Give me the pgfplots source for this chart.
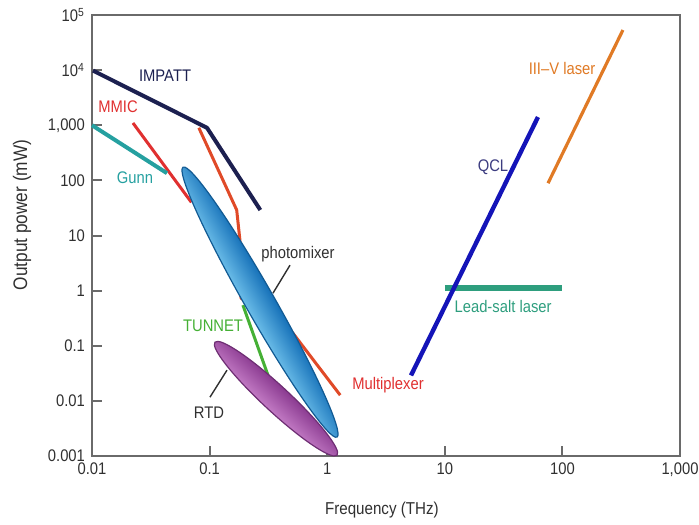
\documentclass[border=0pt]{standalone}
\usepackage{pgfplots}
\pgfplotsset{compat=1.18}
\usepackage{fontspec}
\setmainfont{Liberation Sans}[FakeStretch=0.88]
\definecolor{axisgray}{HTML}{6A6A6A}
\definecolor{labgray}{HTML}{303030}
\definecolor{impatt}{HTML}{1C2050}
\definecolor{mmic}{HTML}{E03030}
\definecolor{mmicb}{HTML}{E04A28}
\definecolor{gunn}{HTML}{25A0A0}
\definecolor{tunnet}{HTML}{45B035}
\definecolor{qcl}{HTML}{1414B8}
\definecolor{qcltext}{HTML}{3C3C80}
\definecolor{threefive}{HTML}{E07A25}
\definecolor{leadsalt}{HTML}{2E9E7E}
\definecolor{pmdark}{HTML}{1570B8}
\definecolor{pmmid}{HTML}{6ABCE8}
\definecolor{pmlight}{HTML}{E0F4FC}
\definecolor{rtodark}{HTML}{8A3A90}
\definecolor{rtomid}{HTML}{C27AC4}
\definecolor{rtolight}{HTML}{F8E0F8}
\tikzset{lab/.style={font=\fontsize{8.4}{10}\selectfont, inner sep=0pt}}
\begin{document}
\begin{tikzpicture}
\begin{axis}[
  scale only axis, width=294pt, height=220.5pt,
  xmode=log, ymode=log,
  xmin=0.01, xmax=1000, ymin=0.001, ymax=100000,
  xtick={0.01,0.1,1,10,100,1000},
  xticklabels={0.01,0.1,1,10,100,{1,000}},
  ytick={0.001,0.01,0.1,1,10,100,1000,10000,100000},
  yticklabels={0.001,0.01,0.1,1,10,100,{1,000},10\textsuperscript{4},10\textsuperscript{5}},
  xminorticks=false, yminorticks=false,
  tick align=inside, major tick length=5pt,
  axis line style={draw=axisgray, line width=1pt},
  major tick style={draw=axisgray, line width=1pt},
  xtick pos=bottom, ytick pos=left,
  tick label style={font=\fontsize{8.4}{10}\selectfont, text=labgray},
  xlabel={Frequency (THz)}, ylabel={Output power (mW)},
  xlabel style={font=\fontsize{8.6}{10}\selectfont, text=labgray, at={(axis description cs:0.493,-0.1224)}, anchor=center},
  ylabel style={font=\fontsize{9.8}{11}\selectfont, text=labgray, at={(axis description cs:-0.119,0.5465)}, anchor=center},
  clip=false,
]
\coordinate (O) at (rel axis cs:0,0);
\coordinate (tA) at (axis cs:0.1,0.001);
\coordinate (tB) at (axis cs:1,0.001);
\coordinate (tC) at (axis cs:10,0.001);
\coordinate (tD) at (axis cs:100,0.001);
% IMPATT
\addplot[impatt, line width=2pt, line join=round] coordinates {(0.0102,9800) (0.095,900) (0.27,29)};
% MMIC left
\addplot[mmic, line width=1.5pt] coordinates {(0.0223,1100) (0.07,40)};
% Gunn
\addplot[gunn, line width=2pt] coordinates {(0.01,1000) (0.0434,135)};
% MMIC right / multiplexer
\addplot[mmicb, line width=1.5pt, line join=round] coordinates {(0.081,900) (0.17,29) (0.181,8.3) (0.185,0.73) (0.51,0.17) (1.29,0.0127)};
% TUNNET
\addplot[tunnet, line width=1.5pt] coordinates {(0.192,0.546) (0.314,0.029)};
% Lead-salt laser
\addplot[leadsalt, line width=3pt] coordinates {(10,1.11) (100,1.11)};
% QCL
\addplot[qcl, line width=2.2pt] coordinates {(5.16,0.029) (62,1410)};
% III-V laser
\addplot[threefive, line width=1.6pt] coordinates {(75.5,89) (327,53400)};

\coordinate (pm) at (axis cs:0.2683,0.6184);
\coordinate (rto) at (axis cs:0.367,0.01096);

% labels
\node[lab, text=impatt] at (axis cs:0.0418,7810) {IMPATT};
\node[lab, text=mmic] at (axis cs:0.01664,2140) {MMIC};
\node[lab, text=gunn] at (axis cs:0.0232,110) {Gunn};
\node[lab, text=labgray] at (axis cs:0.565,4.6) {photomixer};
\draw[labgray, line width=0.7pt] (axis cs:0.483,2.9) -- (axis cs:0.346,0.90);
\node[lab, text=tunnet] at (axis cs:0.107,0.227) {TUNNET};
\node[lab, text=labgray] at (axis cs:0.0989,0.00598) {RTD};
\draw[labgray, line width=0.7pt] (axis cs:0.1007,0.01167) -- (axis cs:0.1406,0.0361);
\node[lab, text=mmic] at (axis cs:3.29,0.0193) {Multiplexer};
\node[lab, text=qcltext] at (axis cs:25.7,174) {QCL};
\node[lab, text=threefive] at (axis cs:99.3,10900) {III–V laser};
\node[lab, text=leadsalt] at (axis cs:31.3,0.523) {Lead-salt laser};
\end{axis}
% x ticks (inside)
\foreach \t in {tA,tB,tC,tD} {
  \draw[axisgray, line width=1pt] (\t) -- ++(0pt,5pt);
}
% ellipses
\begin{scope}[transform canvas={shift={(rto)}, rotate=-42.8}]
\shade[top color=rtodark, middle color=rtolight, bottom color=rtomid, draw=rtodark!80!black, line width=0.6pt] (0,0) ellipse [x radius=41.6pt, y radius=6.5pt];
\end{scope}
\begin{scope}[transform canvas={shift={(pm)}, rotate=-60.3}]
\shade[top color=pmdark, middle color=pmlight, bottom color=pmmid, draw=pmdark!80!black, line width=0.6pt] (0,0) ellipse [x radius=77.7pt, y radius=7.3pt];
\end{scope}
\pgfresetboundingbox
\path ([shift={(-46pt,-34pt)}]O) rectangle ([shift={(303.5pt,228pt)}]O);
\end{tikzpicture}
\end{document}
